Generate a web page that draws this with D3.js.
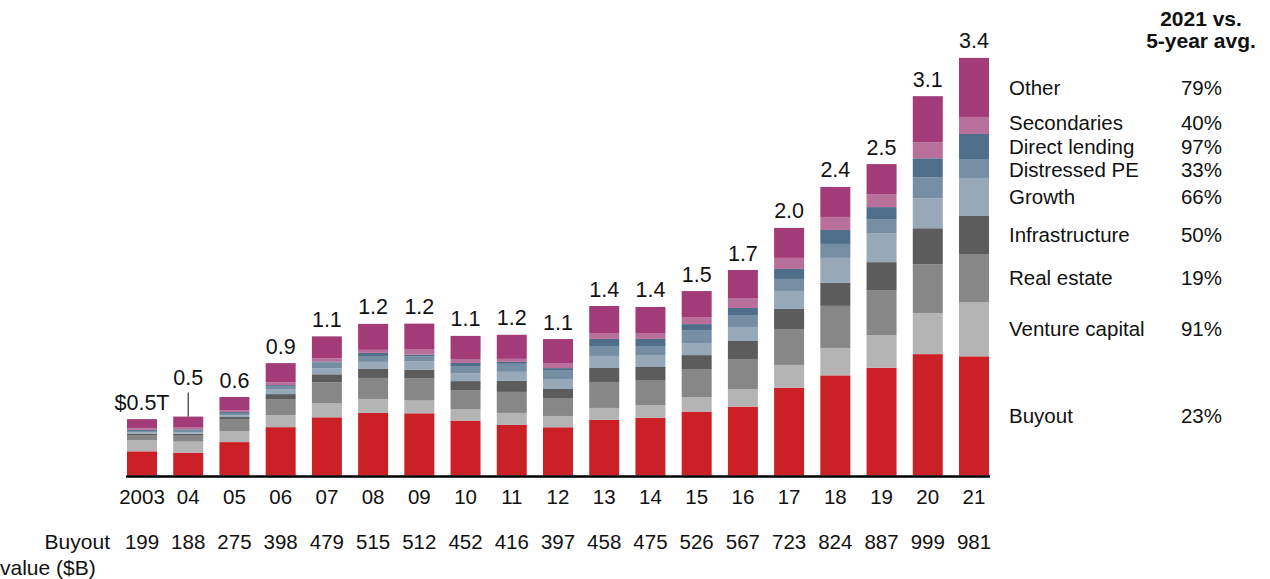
<!DOCTYPE html>
<html>
<head>
<meta charset="utf-8">
<script src="https://cdn.jsdelivr.net/npm/d3@7/dist/d3.min.js"></script>
<style>
  html, body { margin: 0; padding: 0; background: #fff; }
  svg { display: block; font-family: "Liberation Sans", Arial, sans-serif; }
</style>
</head>
<body>
<svg id="chart" width="1270" height="579"></svg>
<script>
// ---- Data ($B) ----
const years = ["2003","04","05","06","07","08","09","10","11","12","13","14","15","16","17","18","19","20","21"];
const totalLabels = ["$0.5T","0.5","0.6","0.9","1.1","1.2","1.2","1.1","1.2","1.1","1.4","1.4","1.5","1.7","2.0","2.4","2.5","3.1","3.4"];
const buyout         = [199,188,275,398,479,515,512,452,416,397,458,475,526,567,723,824,887,999,981];
const ventureCapital = [90,91,91,99,115,115,105,95,99,93,98,105,120,145,187,226,269,337,447];
const realEstate     = [44,49,99,132,173,173,181,156,173,148,214,206,230,247,296,346,370,403,395];
const infrastructure = [12,16,16,41,66,74,74,74,91,74,115,107,115,148,165,189,230,296,313];
const growth         = [11,11,14,41,49,58,66,66,74,82,99,99,99,115,148,206,239,247,313];
const distressedPE   = [11,14,13,25,49,49,41,58,66,74,82,74,107,99,99,115,115,173,156];
const directLending  = [8,11,14,8,8,25,16,25,16,16,58,58,49,58,82,115,99,156,206];
const secondaries    = [12,14,14,22,25,25,41,33,25,41,49,49,58,82,91,107,107,132,140];
const other          = [77,91,110,159,181,214,214,190,198,198,222,214,214,230,247,247,247,379,486];

const seriesNames = ["Buyout","Venture capital","Real estate","Infrastructure","Growth","Distressed PE","Direct lending","Secondaries","Other"];
const seriesValues = [buyout, ventureCapital, realEstate, infrastructure, growth, distressedPE, directLending, secondaries, other];
const changeVs5yr = ["23%","91%","19%","50%","66%","33%","97%","40%","79%"];
const colors = ["#cc2027","#b4b4b4","#878787","#5c5c5c","#97a8b8","#758ea3","#4e6e89","#b96f9c","#a23b78"];

// ---- Build table ----
const rows = years.map((yr, i) => {
  const r = { year: yr };
  seriesNames.forEach((s, k) => r[s] = seriesValues[k][i]);
  return r;
});
const stacked = d3.stack().keys(seriesNames)(rows);

const svg = d3.select("#chart");
const baseY = 475.5;
const x = d3.scaleBand().domain(years).range([127, 989]).paddingInner(0.351).paddingOuter(0);
const y = d3.scaleLinear().domain([0, 3500]).range([baseY, baseY - 3500 * 0.1215]);

// bars
const g = svg.append("g");
stacked.forEach((layer, k) => {
  g.append("g").attr("fill", colors[k])
    .selectAll("rect").data(layer).join("rect")
    .attr("x", d => x(d.data.year))
    .attr("width", x.bandwidth())
    .attr("y", d => y(d[1]))
    .attr("height", d => y(d[0]) - y(d[1]));
});

// baseline axis
const xAxis = d3.axisBottom(x).tickSize(0).tickPadding(0);
const axG = svg.append("g").attr("transform", `translate(0,${baseY + 1})`).call(xAxis);
axG.select(".domain").attr("stroke", "#000").attr("stroke-width", 2.5).attr("d", `M126,0H990`);
axG.selectAll(".tick text").attr("font-size", 20.5).attr("fill", "#111")
  .attr("font-family", "Liberation Sans, Arial, sans-serif")
  .attr("dy", null).attr("y", 27.5);

// total labels
const topLayer = stacked[stacked.length - 1];
const raised = { "04": 22 };
svg.append("g").selectAll("text").data(topLayer).join("text")
  .attr("x", d => x(d.data.year) + x.bandwidth() / 2)
  .attr("y", d => y(d[1]) - 9.5 - (raised[d.data.year] || 0))
  .attr("text-anchor", "middle").attr("font-size", 21.5).attr("fill", "#111")
  .text((d, i) => totalLabels[i]);
// leader line for raised label
topLayer.filter(d => raised[d.data.year]).forEach(d => {
  const cx = x(d.data.year) + x.bandwidth() / 2;
  svg.append("line").attr("x1", cx).attr("x2", cx)
    .attr("y1", y(d[1]) - raised[d.data.year] - 2).attr("y2", y(d[1]))
    .attr("stroke", "#333").attr("stroke-width", 1.2);
});

// buyout value row
svg.append("text").attr("x", 110).attr("y", 549).attr("text-anchor", "end")
  .attr("font-size", 21).attr("fill", "#111").text("Buyout");
svg.append("text").attr("x", 0).attr("y", 575).attr("text-anchor", "start")
  .attr("font-size", 21).attr("fill", "#111").text("value ($B)");
svg.append("g").selectAll("text").data(years).join("text")
  .attr("x", d => x(d) + x.bandwidth() / 2).attr("y", 549)
  .attr("text-anchor", "middle").attr("font-size", 20.5).attr("fill", "#111")
  .text((d, i) => buyout[i]);

// legend aligned with 2021 segments (with small nudges to avoid crowding)
const last = years.length - 1;
const nudge = { "Secondaries": -2.5, "Distressed PE": 1.5 };
const lg = svg.append("g");
stacked.forEach((layer, k) => {
  const d = layer[last];
  const cy = (y(d[0]) + y(d[1])) / 2 + (nudge[seriesNames[k]] || 0);
  lg.append("text").attr("x", 1009).attr("y", cy).attr("dy", "0.35em")
    .attr("font-size", 20.5).attr("fill", "#111").text(seriesNames[k]);
  lg.append("text").attr("x", 1222).attr("y", cy).attr("dy", "0.35em")
    .attr("text-anchor", "end").attr("font-size", 20.5).attr("fill", "#111").text(changeVs5yr[k]);
});
lg.append("text").attr("x", 1201).attr("y", 26).attr("text-anchor", "middle")
  .attr("font-size", 21).attr("font-weight", "bold").attr("fill", "#111").text("2021 vs.");
lg.append("text").attr("x", 1201).attr("y", 48).attr("text-anchor", "middle")
  .attr("font-size", 21).attr("font-weight", "bold").attr("fill", "#111").text("5-year avg.");
</script>
</body>
</html>
